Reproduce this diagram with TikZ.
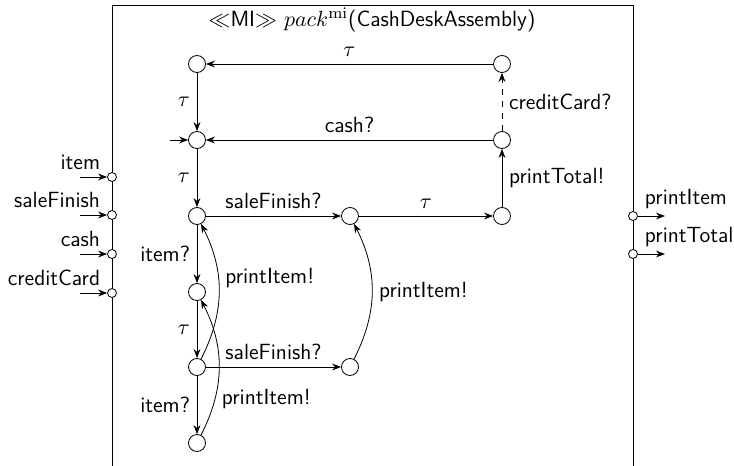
\documentclass[tikz,border=0pt]{standalone}
\usetikzlibrary{arrows.meta}
\begin{document}
\begin{tikzpicture}[
    x=0.5pt, y=-0.5pt,
    font=\sffamily\fontsize{11}{13}\selectfont,
    >={Stealth[length=4.5pt,width=3.4pt]},
    state/.style={circle, draw, minimum size=8.5pt, inner sep=0pt},
    port/.style={circle, draw, fill=white, minimum size=4.5pt, inner sep=0pt},
    frame/.style={draw},
    curved/.style={bend right=27}
]
\useasboundingbox (0,0) rectangle (734,466);
\draw[frame] (112,466) |- (633,5) -- (633,466);
\node (title) at (372,20) {$\ll$MI$\gg$ $pack^{\mathrm{mi}}$(CashDeskAssembly)};

% states
\node[state] (q1) at (197,64) {};
\node[state] (q2) at (502,64) {};
\node[state] (q0) at (197,140) {};
\node[state] (q3) at (502,140) {};
\node[state] (a) at (197,216) {};
\node[state] (b) at (350,216) {};
\node[state] (c) at (502,216) {};
\node[state] (d) at (197,292) {};
\node[state] (e) at (197,367) {};
\node[state] (f) at (350,367) {};
\node[state] (g) at (197,443) {};
\coordinate (init) at (170,140);

% transitions
\draw[->] (init) -- (q0);
\draw[->] (q2) -- node[above] {$\tau$} (q1);
\draw[->] (q1) -- node[left] {$\tau$} (q0);
\draw[->] (q3) -- node[above] {cash?} (q0);
\draw[->, dashed] (q3) -- node[right] {creditCard?} (q2);
\draw[->] (q0) -- node[left] {$\tau$} (a);
\draw[->] (a) -- node[above] {saleFinish?} (b);
\draw[->] (b) -- node[above] {$\tau$} (c);
\draw[->] (c) -- node[right] {printTotal!} (q3);
\draw[->] (a) -- node[left] {item?} (d);
\draw[->] (d) -- node[left] {$\tau$} (e);
\draw[->] (e) -- node[left] {item?} (g);
\draw[->] (e) -- node[above] {saleFinish?} (f);
\draw[->] (e) to[curved] node[pos=0.6, right] {printItem!} (a);
\draw[->] (g) to[curved] node[pos=0.26, right] {printItem!} (d);
\draw[->] (f) to[curved] node[right] {printItem!} (b);

% ports
\node[port] (pItem) at (112,177) {};
\node[port] (pSale) at (112,215) {};
\node[port] (pCash) at (112,254) {};
\node[port] (pCard) at (112,293) {};
\node[port] (pPrItem) at (633,216) {};
\node[port] (pPrTotal) at (633,254) {};
\coordinate (wItem) at (80,177);
\coordinate (wSale) at (80,215);
\coordinate (wCash) at (80,254);
\coordinate (wCard) at (80,293);
\coordinate (wPrItem) at (665,216);
\coordinate (wPrTotal) at (665,254);
\draw[->] (wItem) -- (pItem) node[pos=1, above left] {item};
\draw[->] (wSale) -- (pSale) node[pos=1, above left] {saleFinish};
\draw[->] (wCash) -- (pCash) node[pos=1, above left] {cash};
\draw[->] (wCard) -- (pCard) node[pos=1, above left] {creditCard};
\draw[->] (pPrItem) -- (wPrItem) node[pos=0, above right] {printItem};
\draw[->] (pPrTotal) -- (wPrTotal) node[pos=0, above right] {printTotal};
\end{tikzpicture}
\end{document}
